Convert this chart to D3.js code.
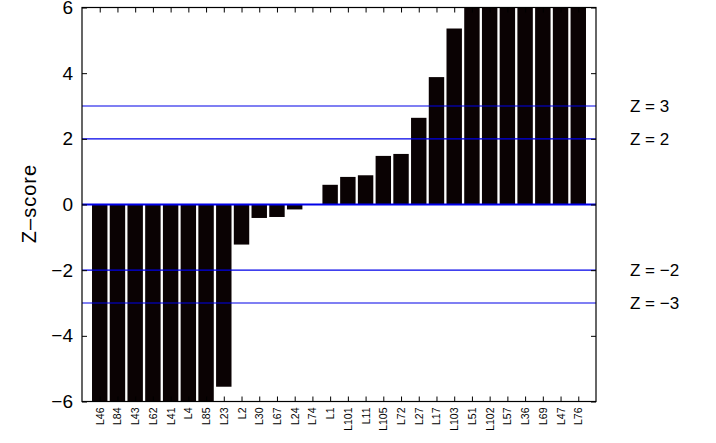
<!DOCTYPE html>
<html><head><meta charset="utf-8">
<script src="https://cdn.jsdelivr.net/npm/d3@7"></script>
<style>
body{margin:0;background:#fff;}
svg{display:block;font-family:"Liberation Sans",Arial,sans-serif;}
</style></head>
<body><svg id="c" width="716" height="443"></svg>
<script>
const categories = ["L46","L84","L43","L62","L41","L4","L85","L23","L2","L30","L67","L24","L74","L1","L101","L11","L105","L72","L27","L17","L103","L51","L102","L57","L36","L69","L47","L76"];
const zscores = [-9.5,-9.0,-8.6,-8.2,-7.8,-7.4,-7.0,-5.55,-1.22,-0.41,-0.38,-0.15,0.0,0.6,0.84,0.89,1.48,1.54,2.64,3.88,5.36,6.5,7.0,7.6,8.2,8.9,9.6,10.5];
const yTicks = [-6,-4,-2,0,2,4,6];
const refLines = [3,2,0,-2,-3];
const refLabels = [3,2,-2,-3];

(function(){
const svg = d3.select("#c");
const L=82, R=596, T=7.5, B=401.5;
const x = d3.scaleLinear().domain([0, categories.length+1]).range([L,R]);
const y = d3.scaleLinear().domain([-6,6]).range([B,T]);
const step = x(1)-x(0);
const bw = step*0.87;
const fmt = d => d<0 ? "\u2212"+Math.abs(d) : String(d);

svg.append("defs").append("clipPath").attr("id","clip")
  .append("rect").attr("x",L).attr("y",T).attr("width",R-L).attr("height",B-T);

const g = svg.append("g").attr("clip-path","url(#clip)");
g.selectAll("rect.bar").data(zscores).enter().append("rect")
  .attr("class","bar")
  .attr("x",(d,i)=>x(i+1)-bw/2)
  .attr("width",bw)
  .attr("y",d=>y(Math.max(d,0)))
  .attr("height",d=>Math.abs(y(d)-y(0)))
  .attr("fill","#0a0203");

g.selectAll("line.ref").data(refLines).enter().append("line")
  .attr("x1",L).attr("x2",R)
  .attr("y1",d=>y(d)).attr("y2",d=>y(d))
  .attr("stroke","#0000e8")
  .attr("stroke-width",d=>d===0?2.2:1.1);

const ax = svg.append("g");
const axLeft = ax.append("g").attr("transform",`translate(${L},0)`)
  .call(d3.axisLeft(y).tickValues(yTicks).tickSize(-5).tickPadding(9).tickFormat(fmt));
const axRight = ax.append("g").attr("transform",`translate(${R},0)`)
  .call(d3.axisRight(y).tickValues(yTicks).tickSize(-5).tickFormat(""));
const xt = d3.range(1,categories.length+1);
const axBottom = ax.append("g").attr("transform",`translate(0,${B})`)
  .call(d3.axisBottom(x).tickValues(xt).tickSize(-5).tickFormat(""));
const axTop = ax.append("g").attr("transform",`translate(0,${T})`)
  .call(d3.axisTop(x).tickValues(xt).tickSize(-5).tickFormat(""));
[axLeft,axRight,axBottom,axTop].forEach(a=>{
  a.select(".domain").remove();
  a.selectAll("line").attr("stroke","#000").attr("stroke-width",1);
});
axLeft.selectAll("text").attr("font-size",19).attr("fill","#000")
  .attr("font-family","Liberation Sans, Arial, sans-serif");

svg.append("rect").attr("x",L).attr("y",T).attr("width",R-L).attr("height",B-T)
  .attr("fill","none").attr("stroke","#000").attr("stroke-width",1.2);

svg.append("g").selectAll("text").data(categories).enter().append("text")
  .attr("transform",(d,i)=>`translate(${x(i+1)+4},${B+6}) rotate(-90)`)
  .attr("text-anchor","end")
  .attr("font-size",10.5)
  .text(d=>d);

svg.append("text").attr("transform",`translate(36,${y(0)-1}) rotate(-90)`)
  .attr("text-anchor","middle").attr("font-size",20).attr("letter-spacing",1)
  .text("Z\u2013score");

svg.append("g").selectAll("text").data(refLabels).enter().append("text")
  .attr("x",630).attr("y",d=>y(d)+6)
  .attr("font-size",17)
  .text(d=>"Z = "+fmt(d));
})();
</script></body></html>
